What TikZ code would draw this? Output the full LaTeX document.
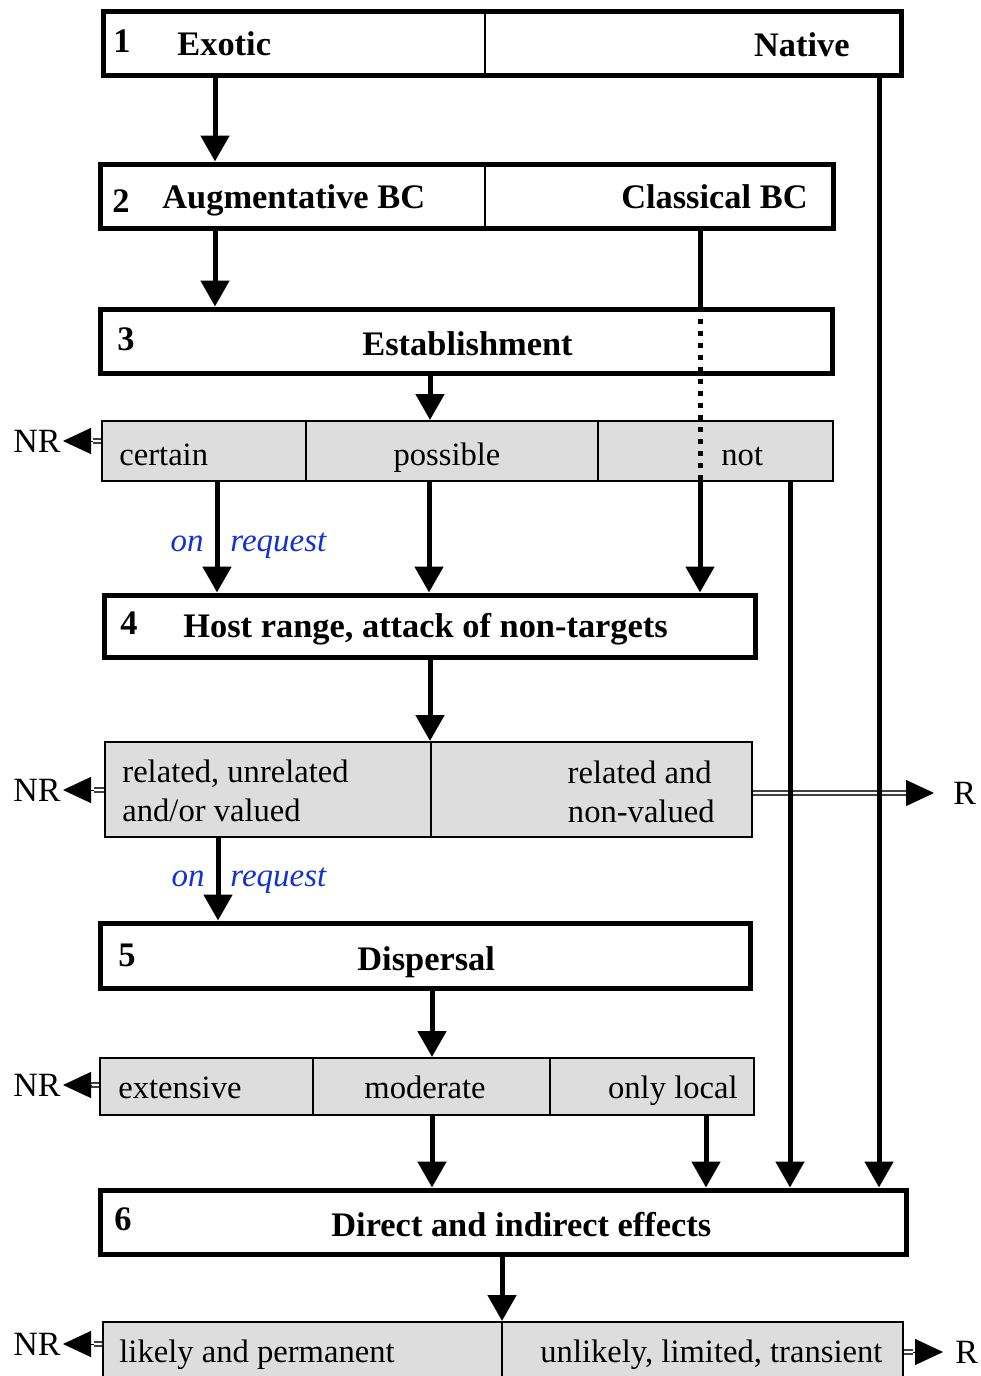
\documentclass[tikz,border=0pt]{standalone}
\usepackage{fontspec}
\setmainfont{Liberation Serif}
\usetikzlibrary{arrows.meta,fit}
\definecolor{boxgray}{RGB}{221,221,221}
\definecolor{reqblue}{RGB}{20,50,210}
\begin{document}
\begin{tikzpicture}[x=0.5pt,y=-0.5pt,
  bigbox/.style={draw, line width=2.5pt, inner sep=0pt},
  graybox/.style={draw, line width=1pt, fill=boxgray, inner sep=0pt},
  div/.style={line width=0.7pt},
  flow/.style={line width=2.5pt, -{Triangle[length=13pt,width=14pt]}},
  plainline/.style={line width=2.5pt},
  dots/.style={line width=2.5pt, dash pattern=on 2.5pt off 3.5pt},
  dbl/.style={double, double distance=1.2pt, line width=0.7pt, draw=black!75},
  sidetip/.style={line width=0.5pt, -{Triangle[length=14pt,width=13pt]}},
  hd/.style={font=\fontsize{17.2}{20}\selectfont\bfseries, inner sep=0pt, anchor=base west},
  tx/.style={font=\fontsize{16.3}{19}\selectfont, inner sep=0pt, anchor=base west},
  req/.style={font=\fontsize{16.5}{19}\selectfont\itshape, text=reqblue, inner sep=0pt},
  lab/.style={font=\fontsize{17}{20}\selectfont, inner sep=0pt}
]
\useasboundingbox (0,0) rectangle (980,1376);
\clip (0,0) rectangle (980,1376);

% ---------- boxes ----------
\node[bigbox, fit={(103,11)(901,75)}] (b1) {};
\draw[div] (485,11) -- (485,75);
\node[bigbox, fit={(100,164)(833,228)}] (b2) {};
\draw[div] (485,164) -- (485,228);
\node[bigbox, fit={(100,309)(832,373)}] (b3) {};
\node[graybox, fit={(102,421)(833,481)}] (g1) {};
\draw[div] (306,421) -- (306,481);
\draw[div] (598,421) -- (598,481);
\node[bigbox, fit={(104,595)(755,657)}] (b4) {};
\node[graybox, fit={(105,742)(752,837)}] (g2) {};
\draw[div] (431,742) -- (431,837);
\node[bigbox, fit={(100,923)(750,988)}] (b5) {};
\node[graybox, fit={(100,1058)(754,1115)}] (g3) {};
\draw[div] (313,1058) -- (313,1115);
\draw[div] (550,1058) -- (550,1115);
\node[bigbox, fit={(100,1190)(906,1254)}] (b6) {};
\node[graybox, fit={(103,1322)(903,1400)}] (g4) {};
\draw[div] (502,1322) -- (502,1400);

% ---------- texts ----------
\node[hd] (n1) at (113,52) {1};
\node[hd] (t1a) at (177,55) {Exotic};
\node[hd, anchor=base east] (t1b) at (850,56) {Native};
\node[hd] (n2) at (112,212) {2};
\node[hd] (t2a) at (162,208) {Augmentative BC};
\node[hd, anchor=base east] (t2b) at (808,208) {Classical BC};
\node[hd] (n3) at (117,350) {3};
\node[hd] (t3) at (362,355) {Establishment};
\node[tx] (c1) at (119,465) {certain};
\node[tx, anchor=base] (c2) at (447,465) {possible};
\node[tx] (c3) at (721,465) {not};
\node[hd] (n4) at (120,634) {4};
\node[hd] (t4) at (183,637) {Host range, attack of non-targets};
\node[tx] (h1) at (122,782) {related, unrelated};
\node[tx] (h2) at (122,821) {and/or valued};
\node[tx, anchor=base east] (h3) at (712,783) {related and};
\node[tx, anchor=base east] (h4) at (715,822) {non-valued};
\node[hd] (n5) at (118,966) {5};
\node[hd] (t5) at (357,970) {Dispersal};
\node[tx] (d1) at (118,1098) {extensive};
\node[tx] (d2) at (364,1098) {moderate};
\node[tx, anchor=base east] (d3) at (738,1098) {only local};
\node[hd] (n6) at (114,1230) {6};
\node[hd] (t6) at (331,1236) {Direct and indirect effects};
\node[tx] (e1) at (119,1362) {likely and permanent};
\node[tx] (e2) at (540,1362) {unlikely, limited, transient};

\node[req, anchor=base east] (on1) at (204,551) {on};
\node[req, anchor=base west] (rq1) at (230,551) {request};
\node[req, anchor=base east] (on2) at (205,886) {on};
\node[req, anchor=base west] (rq2) at (230,886) {request};

% ---------- NR / R labels ----------
\node[lab, anchor=east] (nr1) at (61,441) {NR};
\node[lab, anchor=east] (nr2) at (61,790) {NR};
\node[lab, anchor=east] (nr3) at (61,1085) {NR};
\node[lab, anchor=east] (nr4) at (61,1344) {NR};
\node[lab, anchor=west] (r1) at (953,793) {R};
\node[lab, anchor=west] (r2) at (955,1352) {R};

\coordinate (nt1) at (63,441);
\coordinate (nt2) at (63,790);
\coordinate (nt3) at (63,1085);
\coordinate (nt4) at (63,1344);
\coordinate (rt1) at (934,793);
\coordinate (rt2) at (943,1352);

\draw[dbl] (g1.west |- nr1.east) -- ++(-8,0) coordinate (s1);
\draw[sidetip] (s1) -- (nt1);
\draw[dbl] (g2.west |- nr2.east) -- ++(-10,0) coordinate (s2);
\draw[sidetip] (s2) -- (nt2);
\draw[dbl] (g3.west |- nr3.east) -- ++(-8,0) coordinate (s3);
\draw[sidetip] (s3) -- (nt3);
\draw[dbl] (g4.west |- nr4.east) -- ++(-8,0) coordinate (s4);
\draw[sidetip] (s4) -- (nt4);

\draw[dbl] (g2.east |- r1.west) -- (906,793) coordinate (q1);
\draw[sidetip] (q1) -- (rt1);
\draw[dbl] (g4.east |- r2.west) -- (913,1352) coordinate (q2);
\draw[sidetip] (q2) -- (rt2);

% ---------- flow arrows ----------
\draw[flow] (b1.south -| 215,0) -- (b2.north -| 215,0);
\draw[flow] (b2.south -| 215,0) -- (b3.north -| 215,0);
\draw[flow] (b3.south -| 430,0) -- (g1.north -| 430,0);
\draw[flow] (g1.south -| 217,0) -- (b4.north -| 217,0);
\draw[flow] (g1.south -| 429,0) -- (b4.north -| 429,0);
\draw[plainline] (b2.south -| 700,0) -- (b3.north -| 700,0);
\draw[dots] (b3.north -| 700,0) -- (g1.south -| 700,0);
\draw[flow] (g1.south -| 700,0) -- (b4.north -| 700,0);
\draw[flow] (g1.south -| 790,0) -- (b6.north -| 790,0);
\draw[flow] (b1.south -| 879,0) -- (b6.north -| 879,0);
\draw[flow] (b4.south -| 430,0) -- (g2.north -| 430,0);
\draw[flow] (g2.south -| 218,0) -- (b5.north -| 218,0);
\draw[flow] (b5.south -| 432,0) -- (g3.north -| 432,0);
\draw[flow] (g3.south -| 432,0) -- (b6.north -| 432,0);
\draw[flow] (g3.south -| 706,0) -- (b6.north -| 706,0);
\draw[flow] (b6.south -| 502,0) -- (g4.north -| 502,0);
\end{tikzpicture}
\end{document}
